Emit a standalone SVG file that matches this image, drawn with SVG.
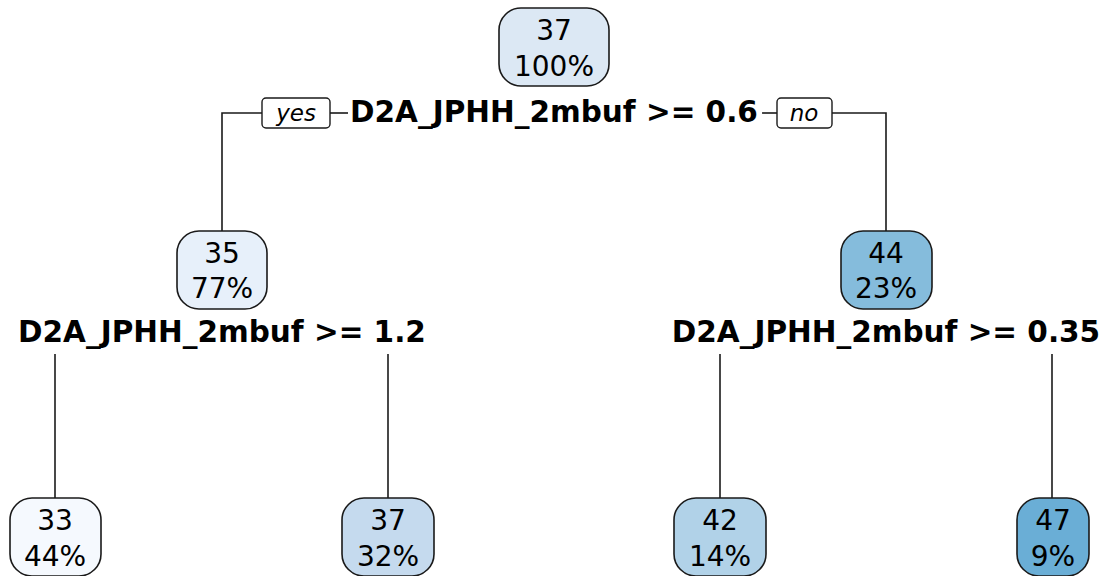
<svg xmlns="http://www.w3.org/2000/svg" width="1106" height="576" viewBox="0 0 1106 576">
<style>
.node rect{stroke:#1a1a1a;stroke-width:1.6}
.num{font-family:"DejaVu Sans",sans-serif;font-size:28px;fill:#000;text-anchor:middle}
.split{font-family:"DejaVu Sans",sans-serif;font-size:29.5px;font-weight:bold;fill:#000;text-anchor:middle}
.lab rect{fill:#fff;stroke:#1a1a1a;stroke-width:1.4}
.lab text{font-family:"DejaVu Sans",sans-serif;font-size:23px;font-style:italic;fill:#000;text-anchor:middle}
#connectors path{fill:none;stroke:#1a1a1a;stroke-width:1.6}
</style>
<rect width="1106" height="576" fill="#fff"/>
<g id="connectors">
<path d="M262 113 H222 V231"/>
<path d="M330 113 H348"/>
<path d="M762 113 H777"/>
<path d="M832 113 H886 V231"/>
<path d="M55 354 V498"/>
<path d="M388 354 V498"/>
<path d="M720 354 V498"/>
<path d="M1052 354 V498"/>
</g>
<g id="n1" class="node">
<rect x="499" y="8" width="110" height="78" rx="22" fill="#dce8f4"/>
<text class="num" x="554" y="40">37</text>
<text class="num" x="554" y="76">100%</text>
<text class="split" x="554" y="122">D2A_JPHH_2mbuf &gt;= 0.6</text>
</g>
<g id="yes" class="lab">
<rect x="262" y="98" width="68" height="30" rx="4"/>
<text x="296" y="121">yes</text>
</g>
<g id="no" class="lab">
<rect x="777" y="98" width="55" height="30" rx="4"/>
<text x="804" y="121">no</text>
</g>
<g id="n2" class="node">
<rect x="177" y="231" width="90" height="78" rx="22" fill="#e7f0fa"/>
<text class="num" x="222" y="263">35</text>
<text class="num" x="222" y="298">77%</text>
<text class="split" x="222" y="342">D2A_JPHH_2mbuf &gt;= 1.2</text>
</g>
<g id="n3" class="node">
<rect x="841" y="231" width="91" height="78" rx="22" fill="#85bcdc"/>
<text class="num" x="886" y="263">44</text>
<text class="num" x="886" y="298">23%</text>
<text class="split" x="886" y="342">D2A_JPHH_2mbuf &gt;= 0.35</text>
</g>
<g id="n4" class="node">
<rect x="10" y="498" width="91" height="78" rx="22" fill="#f5f9fe"/>
<text class="num" x="55" y="530">33</text>
<text class="num" x="55" y="566">44%</text>
</g>
<g id="n5" class="node">
<rect x="342" y="498" width="92" height="78" rx="22" fill="#c5daee"/>
<text class="num" x="388" y="530">37</text>
<text class="num" x="388" y="566">32%</text>
</g>
<g id="n6" class="node">
<rect x="674" y="498" width="92" height="78" rx="22" fill="#b1d2e8"/>
<text class="num" x="720" y="530">42</text>
<text class="num" x="720" y="566">14%</text>
</g>
<g id="n7" class="node">
<rect x="1017" y="498" width="72" height="78" rx="22" fill="#6aaed6"/>
<text class="num" x="1053" y="530">47</text>
<text class="num" x="1053" y="566">9%</text>
</g>
</svg>
